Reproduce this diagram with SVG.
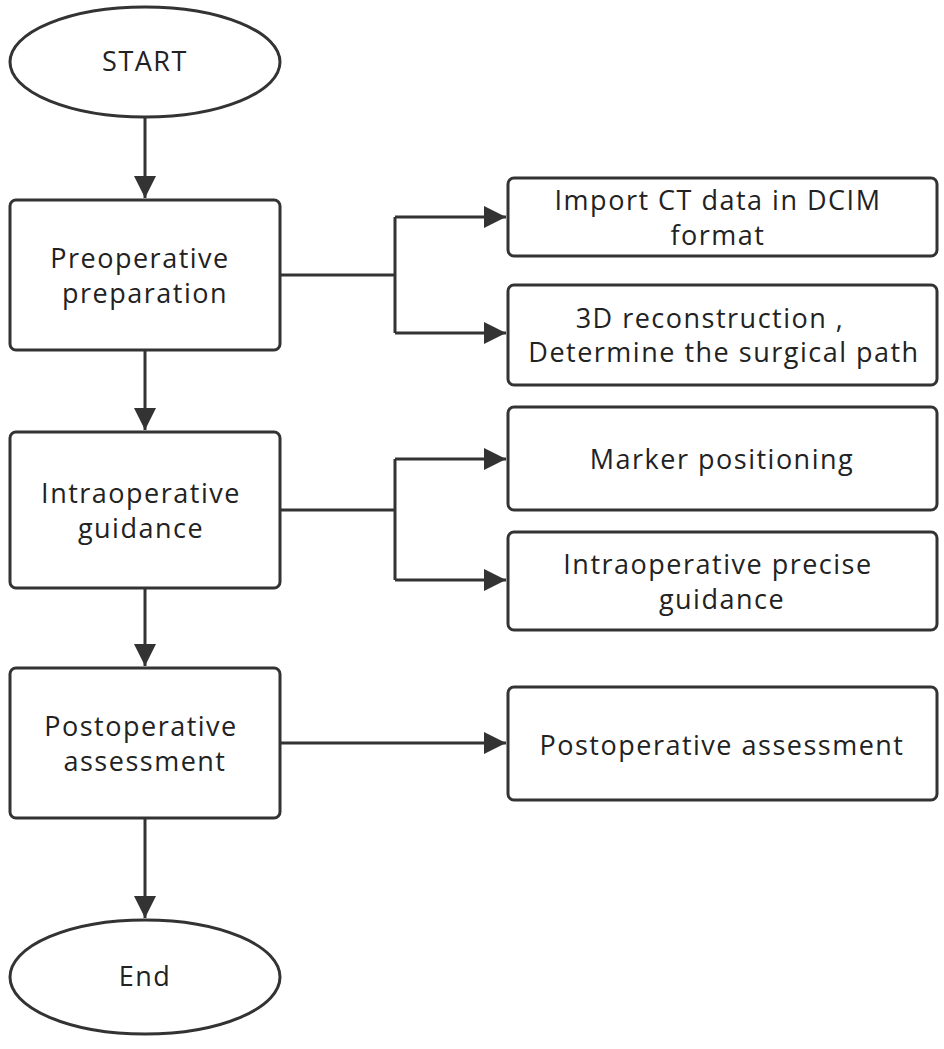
<svg xmlns="http://www.w3.org/2000/svg" width="944" height="1049" viewBox="0 0 944 1049">
<style>
.s{fill:#fff;stroke:#333;stroke-width:3}
.t{font-family:"Open Sans","Noto Sans",sans-serif;font-size:27px;letter-spacing:1.5px;fill:#222;text-anchor:middle}
.c{fill:none;stroke:#333;stroke-width:3}
</style>
<defs>
<marker id="b" viewBox="0 0 10 10" refX="10" refY="5" markerWidth="26" markerHeight="22" orient="auto" markerUnits="userSpaceOnUse"><path d="M0,0L10,5L0,10z" fill="#333"/></marker></defs>
<rect width="944" height="1049" fill="#fff"/>
<g id="connectors">
<path class="c" d="M145,117V198" marker-end="url(#b)"/>
<path class="c" d="M145,350V430" marker-end="url(#b)"/>
<path class="c" d="M145,588V666" marker-end="url(#b)"/>
<path class="c" d="M145,818V918" marker-end="url(#b)"/>
<path class="c" d="M280,275H395M395,217V333M395,217H506" marker-end="url(#b)"/>
<path class="c" d="M395,333H506" marker-end="url(#b)"/>
<path class="c" d="M280,510H395M395,459V580M395,459H506" marker-end="url(#b)"/>
<path class="c" d="M395,580H506" marker-end="url(#b)"/>
<path class="c" d="M280,743H506" marker-end="url(#b)"/>
</g>
<g id="start"><ellipse class="s" cx="145" cy="62" rx="135" ry="55"/><text class="t" x="145" y="71">START</text></g>
<g id="pre"><rect class="s" x="10" y="200" width="270" height="150" rx="6"/><text class="t" x="140" y="268">Preoperative</text><text class="t" x="145" y="303">preparation</text></g>
<g id="intra"><rect class="s" x="10" y="432" width="270" height="156" rx="6"/><text class="t" x="141" y="503">Intraoperative</text><text class="t" x="141" y="538">guidance</text></g>
<g id="post"><rect class="s" x="10" y="668" width="270" height="150" rx="6"/><text class="t" x="141" y="736">Postoperative</text><text class="t" x="145" y="771">assessment</text></g>
<g id="end"><ellipse class="s" cx="145" cy="977" rx="135" ry="57"/><text class="t" x="145" y="986">End</text></g>
<g id="r1"><rect class="s" x="508" y="178" width="429" height="78" rx="6"/><text class="t" x="718" y="210">Import CT data in DCIM</text><text class="t" x="718" y="245">format</text></g>
<g id="r2"><rect class="s" x="508" y="285" width="429" height="100" rx="6"/><text class="t" x="710" y="328">3D reconstruction ,</text><text class="t" x="724" y="362">Determine the surgical path</text></g>
<g id="r3"><rect class="s" x="508" y="407" width="429" height="103" rx="6"/><text class="t" x="722" y="469">Marker positioning</text></g>
<g id="r4"><rect class="s" x="508" y="532" width="429" height="98" rx="6"/><text class="t" x="718" y="574">Intraoperative precise</text><text class="t" x="722" y="609">guidance</text></g>
<g id="r5"><rect class="s" x="508" y="687" width="429" height="113" rx="6"/><text class="t" x="722" y="755">Postoperative assessment</text></g>
</svg>
